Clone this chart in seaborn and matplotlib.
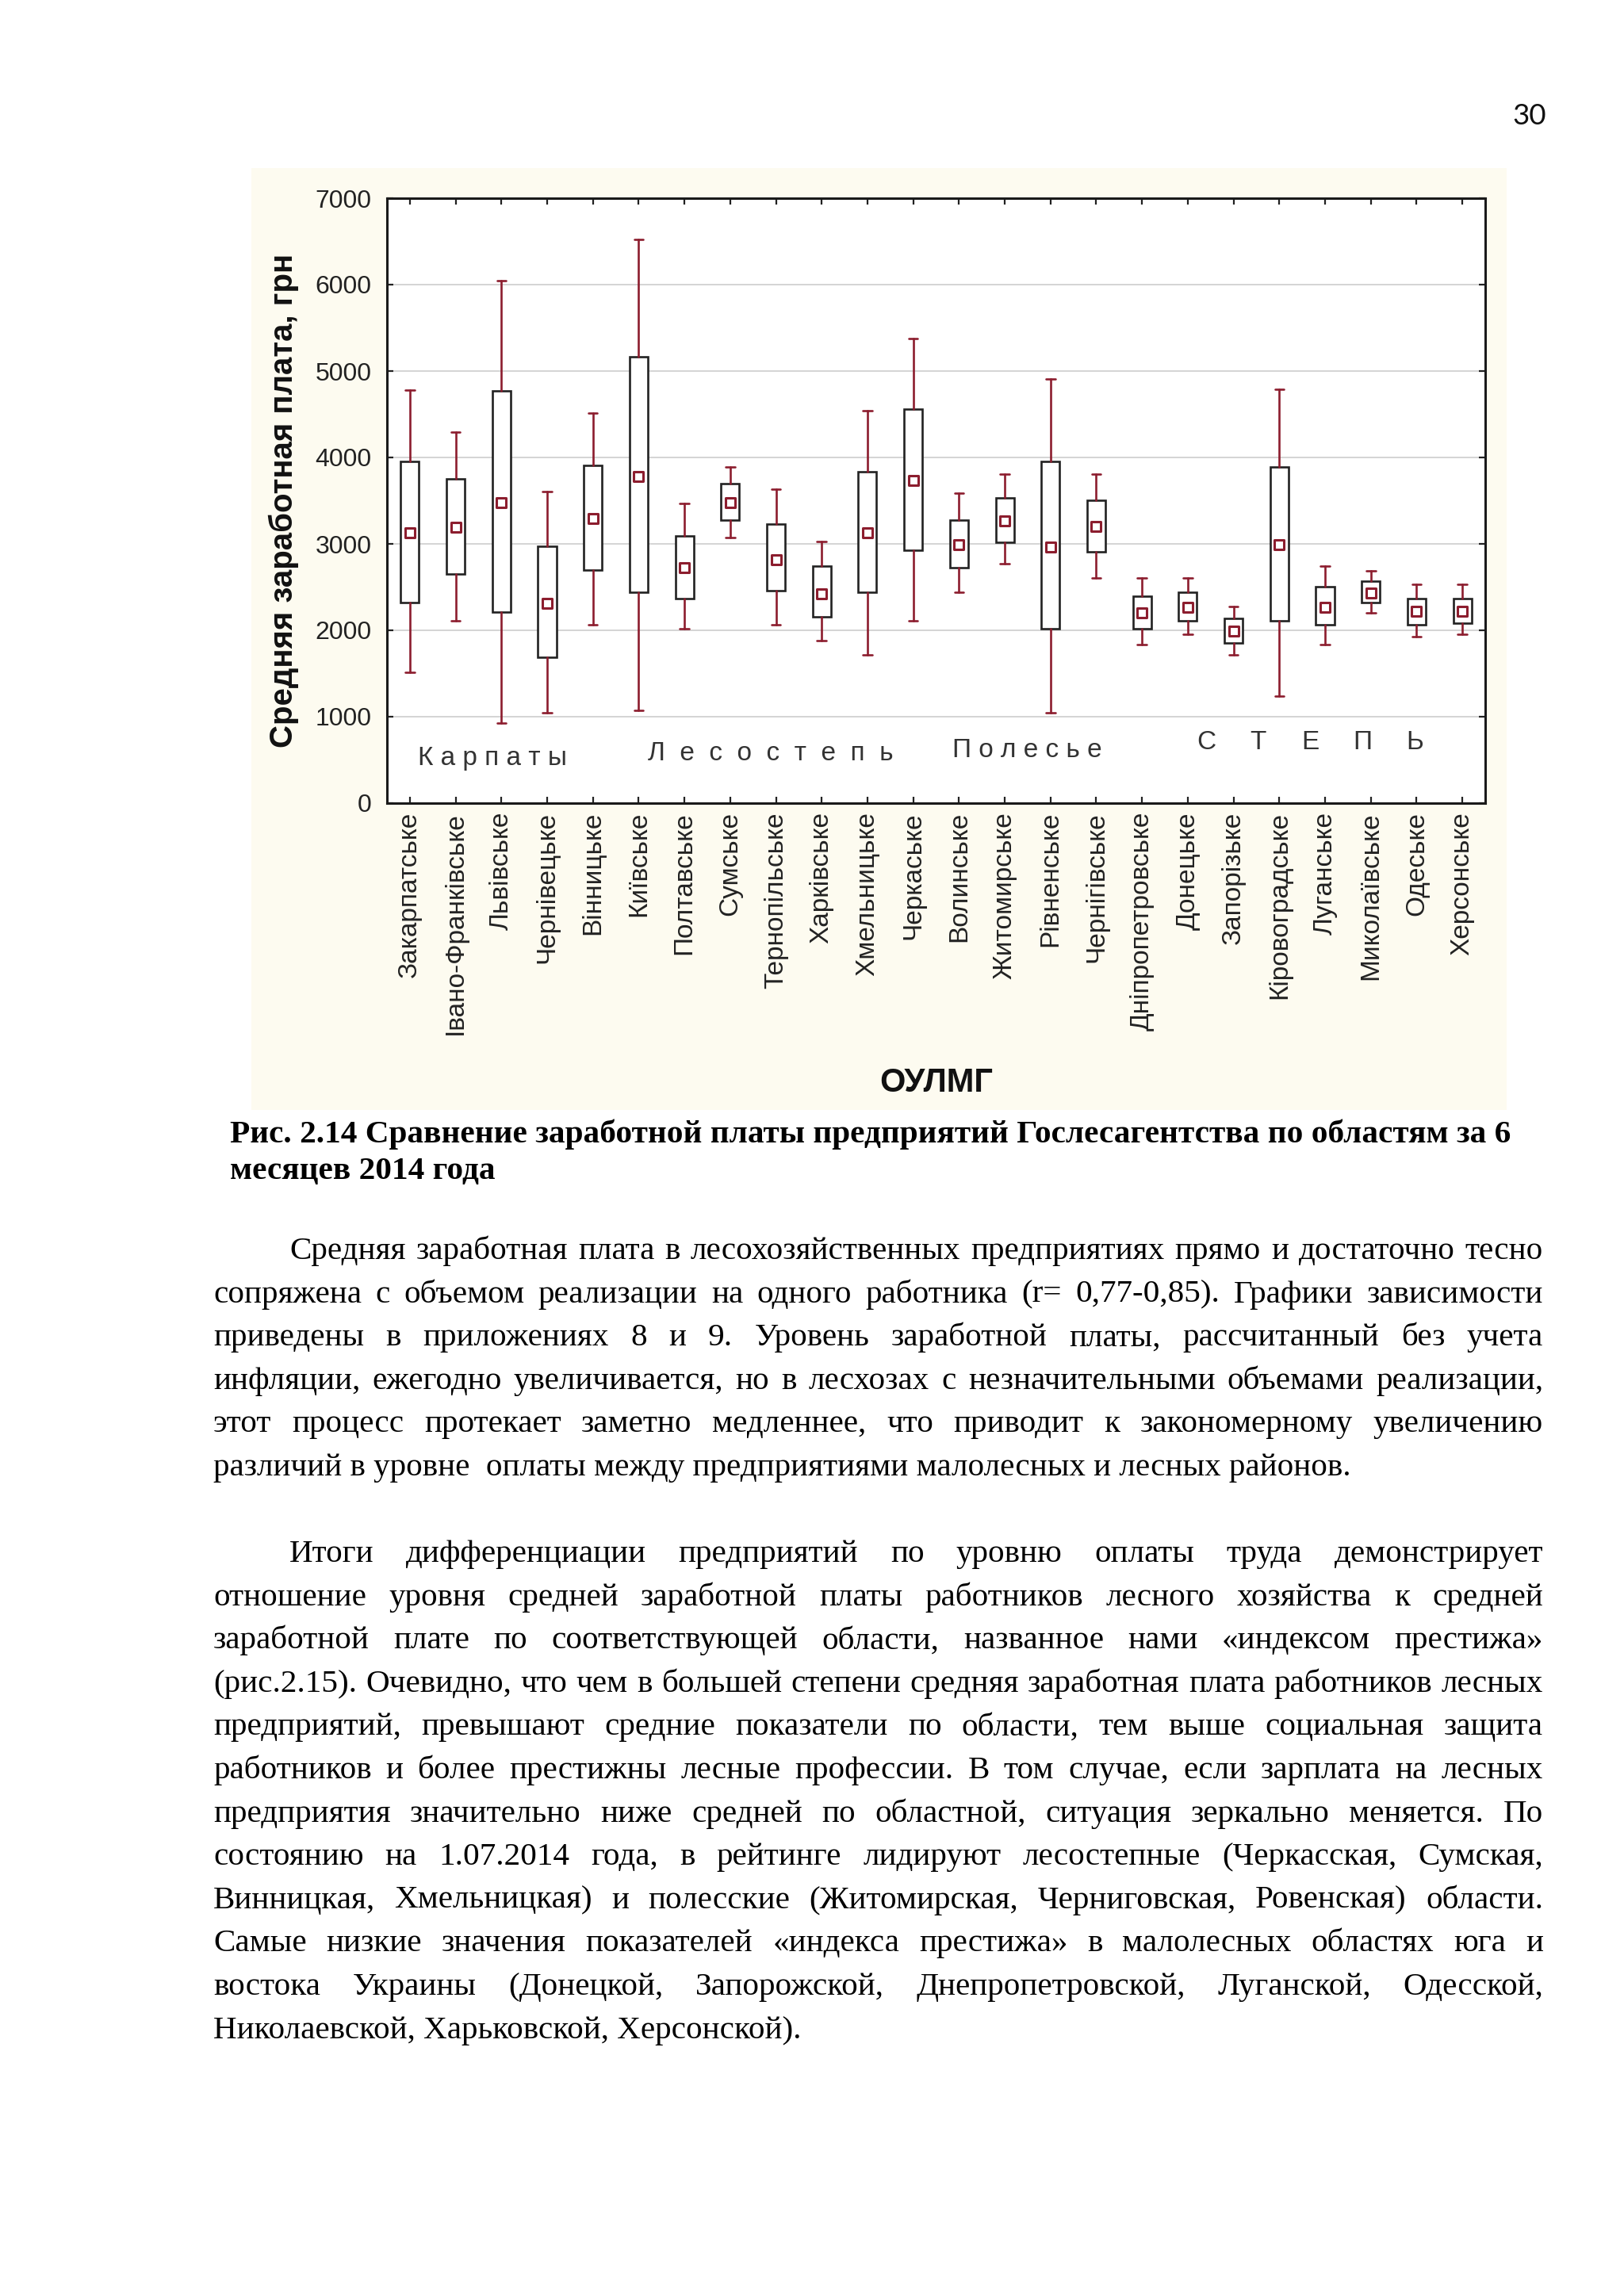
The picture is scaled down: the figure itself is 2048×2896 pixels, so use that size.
import matplotlib
matplotlib.use("Agg")
import matplotlib.pyplot as plt
from matplotlib.patches import Rectangle
from matplotlib.transforms import IdentityTransform
import numpy as np
import pandas as pd
import seaborn as sns

# ---------------- data ----------------
regions = ["Закарпатське", "Івано-Франківське", "Львівське", "Чернівецьке", "Вінницьке",
           "Київське", "Полтавське", "Сумське", "Тернопільське", "Харківське",
           "Хмельницьке", "Черкаське", "Волинське", "Житомирське", "Рівненське",
           "Чернігівське", "Дніпропетровське", "Донецьке", "Запорізьке", "Кіровоградське",
           "Луганське", "Миколаївське", "Одеське", "Херсонське"]
whisker_low = [1517, 2114, 930, 1045, 2065, 1070, 2015, 3070, 2065, 1881, 1716, 2109,
               2438, 2771, 1045, 2602, 1836, 1950, 1716, 1234, 1836, 2204, 1930, 1955]
box_low = [2323, 2647, 2209, 1692, 2697, 2438, 2368, 3274, 2458, 2159, 2438, 2930,
           2721, 3020, 2015, 2905, 2020, 2109, 1856, 2109, 2065, 2318, 2065, 2085]
center = [3124, 3194, 3473, 2308, 3294, 3781, 2726, 3473, 2821, 2423, 3124, 3731,
          2990, 3269, 2960, 3199, 2199, 2264, 1990, 2990, 2264, 2428, 2219, 2219]
box_high = [3955, 3751, 4771, 2975, 3910, 5164, 3095, 3701, 3229, 2746, 3836, 4557,
            3279, 3532, 3950, 3507, 2393, 2438, 2134, 3886, 2507, 2572, 2368, 2368]
whisker_high = [4780, 4289, 6050, 3607, 4512, 6522, 3468, 3886, 3632, 3025, 4537, 5373,
                3587, 3811, 4910, 3811, 2602, 2602, 2274, 4786, 2746, 2692, 2532, 2532]
yticks = [0, 1000, 2000, 3000, 4000, 5000, 6000, 7000]

zone_labels = ["К а р п а т ы", "Л  е  с  о  с  т  е  п  ь", "П о л е с ь е"]
steppe_letters = ["С", "Т", "Е", "П", "Ь"]

y_label = "Средняя заработная плата, грн"
x_label = "ОУЛМГ"
page_number = "30"
caption_lines = ["Рис. 2.14 Сравнение заработной платы предприятий Гослесагентства по областям за 6",
                 "месяцев 2014 года"]
para1 = ["Средняя заработная плата в лесохозяйственных предприятиях прямо и достаточно тесно",
         "сопряжена с объемом реализации на одного работника  (r= 0,77-0,85). Графики зависимости",
         "приведены в приложениях 8 и 9. Уровень заработной платы, рассчитанный без учета",
         "инфляции, ежегодно увеличивается, но в лесхозах с незначительными объемами реализации,",
         "этот процесс протекает заметно медленнее, что приводит к закономерному увеличению",
         "различий в уровне  оплаты между предприятиями малолесных и лесных районов."]
para2 = ["Итоги дифференциации предприятий по уровню оплаты труда демонстрирует",
         "отношение уровня средней заработной платы работников лесного хозяйства к средней",
         "заработной плате по соответствующей области, названное нами «индексом престижа»",
         "(рис.2.15). Очевидно, что чем в большей степени средняя заработная плата работников лесных",
         "предприятий, превышают средние показатели по области, тем выше социальная защита",
         "работников и более  престижны лесные профессии.  В том случае, если зарплата на лесных",
         "предприятия значительно ниже средней по областной, ситуация зеркально меняется. По",
         "состоянию на 1.07.2014 года,  в рейтинге лидируют лесостепные (Черкасская, Сумская,",
         "Винницкая, Хмельницкая) и полесские (Житомирская, Черниговская, Ровенская) области.",
         "Самые  низкие значения  показателей «индекса престижа» в малолесных  областях юга и",
         "востока Украины (Донецкой, Запорожской, Днепропетровской, Луганской, Одесской,",
         "Николаевской, Харьковской, Херсонской)."]

df = pd.DataFrame({"region": regions, "pos": np.arange(len(regions)), "center": center})

# ---------------- style ----------------
W, H, DPI = 2048, 2896, 100
RED = "#8c1d2e"
CREAM = "#fdfbf0"
sns.set_theme(style="white")
plt.rcParams["font.family"] = ["Liberation Sans", "DejaVu Sans"]
SERIF = ["Liberation Serif", "DejaVu Serif"]

fig = plt.figure(figsize=(W / DPI, H / DPI), dpi=DPI, facecolor="white")
fig.patches.append(Rectangle((317 / W, 1 - 1400 / H), (1900 - 317) / W, (1400 - 212) / H,
                             transform=fig.transFigure, facecolor=CREAM, edgecolor="none", zorder=-10))

ax = fig.add_axes([488 / W, 1 - 1013 / H, (1873 - 488) / W, (1013 - 250) / H])
ax.set_facecolor("white")

stats = [dict(med=c, q1=bl, q3=bh, whislo=wl, whishi=wh, fliers=[])
         for wl, bl, c, bh, wh in zip(whisker_low, box_low, center, box_high, whisker_high)]
ax.bxp(stats, positions=df["pos"].values, widths=0.4, capwidths=0.2, patch_artist=True,
       showfliers=False, manage_ticks=False,
       boxprops=dict(facecolor="white", edgecolor="#222222", linewidth=1.9),
       whiskerprops=dict(color=RED, linewidth=1.9),
       capprops=dict(color=RED, linewidth=1.9),
       medianprops=dict(linewidth=0), zorder=3)
sns.scatterplot(data=df, x="pos", y="center", marker="s", s=80, color="white",
                edgecolor=RED, linewidth=2.2, zorder=5, ax=ax, legend=False)

ax.set_xlim(-0.5, len(regions) - 0.5)
ax.set_ylim(0, 7000)
ax.set_xticks(df["pos"].values)
ax.set_xticklabels(regions, rotation=90, fontsize=24, color="#222222")
ax.set_yticks(yticks)
ax.set_yticklabels([str(v) for v in yticks], fontsize=23, color="#222222")
ax.tick_params(direction="in", length=6, width=1.6, color="#222222",
               top=True, right=True, bottom=True, left=True)
ax.tick_params(axis="x", pad=8)
ax.tick_params(axis="y", pad=14)
ax.yaxis.grid(True, color="#d4d4d4", linewidth=1.4)
ax.set_axisbelow(True)
for s in ax.spines.values():
    s.set_visible(True)
    s.set_color("#1a1a1a")
    s.set_linewidth(2.2)

ax.set_ylabel(y_label, fontsize=29, fontweight="bold", color="#111111")
ax.yaxis.set_label_coords(-0.08, 0.5)
ax.set_xlabel(x_label, fontsize=30, fontweight="bold", color="#111111")
ax.xaxis.set_label_coords(0.5, -0.436)

for txt, x, y in zip(zone_labels, [0.18, 5.2, 11.86], [522, 572, 607]):
    ax.text(x, y, txt, fontsize=24, color="#333333", ha="left", va="center")
for i, letter in enumerate(steppe_letters):
    ax.text(17.4 + i * 1.14, 700, letter, fontsize=24, color="#333333", ha="center", va="center")

# ---------------- page text ----------------
renderer = fig.canvas.get_renderer()


def px_text(x, y_top, s, **kw):
    return fig.text(x, H - y_top, s, transform=IdentityTransform(), **kw)


def width_of(s, size, weight="normal", family=SERIF):
    t = fig.text(0, 0, s, fontsize=size, family=family, fontweight=weight)
    w = t.get_window_extent(renderer).width
    t.remove()
    return w


px_text(1950, 157, page_number, ha="right", va="baseline", fontsize=26.5,
        family=["Lato", "DejaVu Sans"], color="#111111")

cap_size = 30 * 1610 / width_of(caption_lines[0], 30, "bold")
for i, line in enumerate(caption_lines):
    px_text(290, 1441 + i * 46, line, ha="left", va="baseline", fontsize=cap_size,
            family=SERIF, fontweight="bold", color="black")

body_size = 34 * 1438 / width_of(para1[-1], 34)
LEFT, RIGHT, INDENT, LS = 269, 1946, 365, 54.6


def draw_paragraph(lines, y0):
    for i, line in enumerate(lines):
        y = y0 + i * LS + 14
        x0 = INDENT if i == 0 else LEFT
        if i == len(lines) - 1:
            px_text(x0, y, line, ha="left", va="baseline", fontsize=body_size,
                    family=SERIF, color="black")
            continue
        words = line.split()
        widths = [width_of(w, body_size) for w in words]
        gap = (RIGHT - x0 - sum(widths)) / (len(words) - 1)
        x = x0
        for w, wd in zip(words, widths):
            px_text(x, y, w, ha="left", va="baseline", fontsize=body_size,
                    family=SERIF, color="black")
            x += wd + gap


draw_paragraph(para1, 1574)
draw_paragraph(para2, 1956)

fig.savefig("out.png", dpi=DPI, facecolor="white")
